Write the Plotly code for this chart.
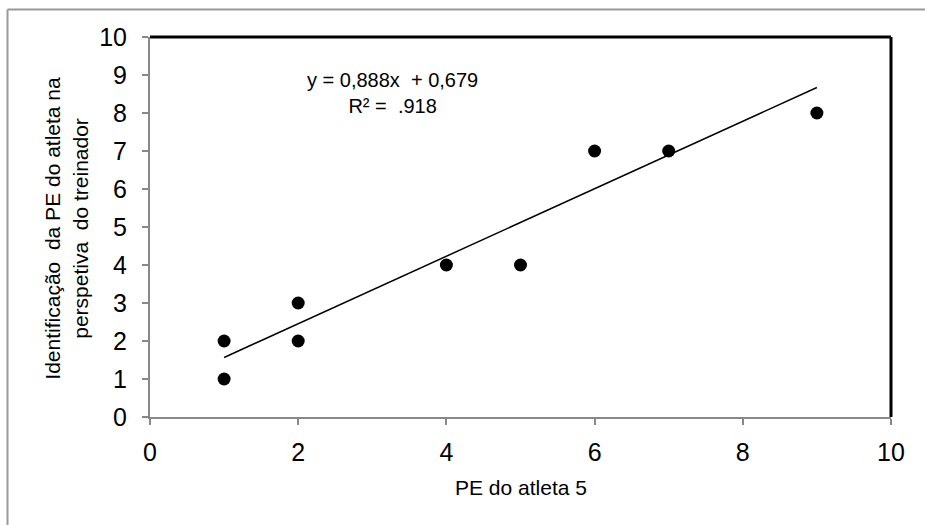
import plotly.graph_objects as go

# Data
pe_atleta = [1, 1, 2, 2, 4, 5, 6, 7, 9]
pe_treinador = [2, 1, 3, 2, 4, 4, 7, 7, 8]

slope = 0.888
intercept = 0.679
trend_x = [1, 9]
trend_y = [slope * v + intercept for v in trend_x]

x_ticks = [0, 2, 4, 6, 8, 10]
y_ticks = list(range(0, 11))

FONT = "Liberation Sans, Arial, sans-serif"

fig = go.Figure()
fig.add_trace(go.Scatter(
    x=trend_x, y=trend_y, mode="lines",
    line=dict(color="black", width=1.5), showlegend=False, hoverinfo="skip"))
fig.add_trace(go.Scatter(
    x=pe_atleta, y=pe_treinador, mode="markers",
    marker=dict(color="black", size=13), showlegend=False))

fig.update_layout(
    width=925, height=525,
    margin=dict(l=150, r=34, t=37, b=108),
    paper_bgcolor="white", plot_bgcolor="white",
    font=dict(family=FONT, color="black"),
    xaxis=dict(range=[0, 10], tickvals=x_ticks, ticktext=[str(v) for v in x_ticks],
               showgrid=False, zeroline=False, showline=True, linecolor="#888888",
               linewidth=2, ticks="outside", ticklen=6, tickwidth=1.5, tickcolor="#888888",
               ticklabelstandoff=6,
               tickfont=dict(size=25, family=FONT, color="black")),
    yaxis=dict(range=[0, 10], tickvals=y_ticks, ticktext=[str(v) for v in y_ticks],
               showgrid=False, zeroline=False, showline=True, linecolor="#888888",
               linewidth=2, ticks="outside", ticklen=6, tickwidth=1.5, tickcolor="#888888",
               ticklabelstandoff=10,
               tickfont=dict(size=25, family=FONT, color="black")),
    shapes=[
        dict(type="line", xref="paper", yref="paper", x0=0, x1=1, y0=1, y1=1,
             line=dict(color="black", width=3)),
        dict(type="line", xref="paper", yref="paper", x0=1, x1=1, y0=0, y1=1,
             line=dict(color="black", width=3)),
        # outer frame (top and left only)
        dict(type="line", xref="paper", yref="paper", x0=(7.5 - 150) / 741, x1=(925 - 150) / 741,
             y0=(416.7 - 9.5) / 379.7, y1=(416.7 - 9.5) / 379.7,
             line=dict(color="#999999", width=2)),
        dict(type="line", xref="paper", yref="paper", x0=(7.5 - 150) / 741, x1=(7.5 - 150) / 741,
             y0=(416.7 - 9.5) / 379.7, y1=(416.7 - 525) / 379.7,
             line=dict(color="#999999", width=2)),
    ],
    annotations=[
        dict(text="y = 0,888x \u00a0+ 0,679<br>R² = \u00a0.918", x=3.27, y=8.52,
             xref="x", yref="y", showarrow=False, xanchor="center", yanchor="middle",
             font=dict(size=20, family=FONT, color="black")),
        dict(text="PE do atleta 5", x=0.5, y=(416.7 - 487) / 379.7, xref="paper", yref="paper",
             showarrow=False, xanchor="center", yanchor="middle",
             font=dict(size=21, family=FONT, color="black")),
        dict(text="Identificação \u00a0da PE do atleta na<br>perspetiva \u00a0do treinador",
             x=(66.5 - 150) / 741, y=(416.7 - 228) / 379.7, xref="paper", yref="paper",
             showarrow=False, xanchor="center", yanchor="middle", textangle=-90,
             font=dict(size=21, family=FONT, color="black")),
    ],
)

fig.write_html("out.html", config={"displayModeBar": False},
               post_script="document.body.style.margin='0';document.body.style.overflow='hidden';")
